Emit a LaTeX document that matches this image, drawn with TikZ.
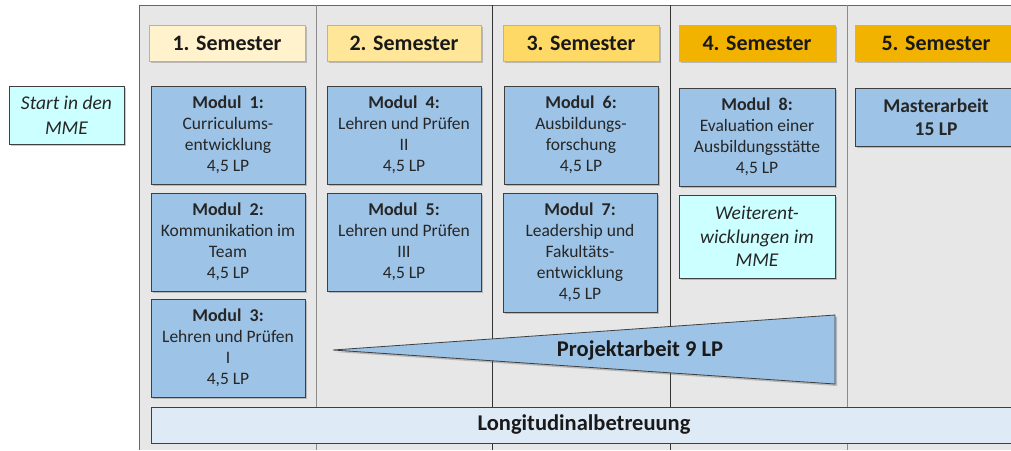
\documentclass[tikz,border=0pt]{standalone}
\usepackage{fontspec}
\setmainfont{Carlito}
\usetikzlibrary{shadows}

\definecolor{panelgrau}{HTML}{E7E7E7}
\definecolor{rand}{HTML}{3F3F3F}
\definecolor{modulblau}{HTML}{9DC3E6}
\definecolor{hinweiscyan}{HTML}{CCFFFF}
\definecolor{longblau}{HTML}{DEEBF7}
\definecolor{semA}{HTML}{FFF2CC}
\definecolor{semB}{HTML}{FFE699}
\definecolor{semC}{HTML}{FFD966}
\definecolor{semD}{HTML}{F2B200}

\newcommand{\modtitel}[1]{{\fontsize{18}{21}\selectfont\bfseries #1}}

\begin{document}
\begin{tikzpicture} [
    x=1pt, y=-1pt,
    schatten/.style = { drop shadow={shadow xshift=2pt, shadow yshift=-2pt,
                        opacity=0.3, fill=black!70} },
    semester/.style = { rectangle, draw=black!30, line width=0.6pt, inner sep=0pt,
                        minimum width=156pt, minimum height=36pt, text=black!90,
                        font=\fontsize{22}{24}\selectfont\bfseries, schatten },
    modul/.style    = { rectangle, draw=rand, fill=modulblau, line width=0.8pt,
                        align=center, inner sep=0pt, minimum width=154pt,
                        minimum height=98pt, text=black!85,
                        font=\fontsize{17.5}{21}\selectfont, schatten },
    hinweis/.style  = { rectangle, draw=rand, fill=hinweiscyan, line width=0.8pt,
                        align=center, inner sep=0pt, text=black!85, schatten },
    trenner/.style  = { line width=0.8pt },
  ]
  \useasboundingbox (0,0) rectangle (1011,450);

  % background panel and column lines
  \fill[panelgrau] (139,5) rectangle (1011,450);
  \draw[line width=1pt, black!60] (139,450) -- (139,5) -- (1011,5);
  \draw[trenner, black!45] (316,5) -- (316,450);
  \draw[trenner, black!80] (492,5) -- (492,450);
  \draw[trenner, black!80] (670,5) -- (670,450);
  \draw[trenner, black!45] (847,5) -- (847,450);

  % semester headers
  \node[semester, fill=semA] (sem1) at (227,43) {1. Semester};
  \node[semester, fill=semB, minimum width=154pt] (sem2) at (404,43) {2. Semester};
  \node[semester, fill=semC] (sem3) at (581,43) {3. Semester};
  \node[semester, fill=semD] (sem4) at (757,43) {4. Semester};
  \node[semester, fill=semD, minimum width=162pt] (sem5) at (936,43) {5. Semester};

  % start box
  \node[hinweis, minimum width=115pt, minimum height=58pt,
        font=\fontsize{19.5}{25}\selectfont\itshape] (start) at (66.5,115)
        {Start in den\\MME};

  % modules
  \node[modul] (m1) at (228,135) {\modtitel{Modul~~1:}\\Curriculums-\\entwicklung\\4,5 LP};
  \node[modul] (m2) at (228,242) {\modtitel{Modul~~2:}\\Kommunikation im\\Team\\4,5 LP};
  \node[modul] (m3) at (228,348) {\modtitel{Modul~~3:}\\Lehren und Prüfen\\I\\4,5 LP};
  \node[modul] (m4) at (404,135) {\modtitel{Modul~~4:}\\Lehren und Prüfen\\II\\4,5 LP};
  \node[modul] (m5) at (404,242) {\modtitel{Modul~~5:}\\Lehren und Prüfen\\III\\4,5 LP};
  \node[modul] (m6) at (581,135) {\modtitel{Modul~~6:}\\Ausbildungs-\\forschung\\4,5 LP};
  \node[modul, minimum height=119pt] (m7) at (580,252.5)
        {\modtitel{Modul~~7:}\\Leadership und\\Fakultäts-\\entwicklung\\4,5 LP};
  \node[modul, minimum width=156pt] (m8) at (757,137)
        {\modtitel{Modul~~8:}\\Evaluation einer\\Ausbildungsstätte\\4,5 LP};
  \node[hinweis, minimum width=156pt, minimum height=83pt,
        font=\fontsize{19.5}{23.5}\selectfont\itshape] (weiter) at (757,236.5)
        {Weiterent-\\wicklungen im\\MME};
  \node[modul, minimum width=162pt, minimum height=58pt,
        font=\fontsize{19.5}{23}\selectfont\bfseries] (master) at (936,117)
        {Masterarbeit\\15 LP};

  % project wedge
  \draw[schatten, draw=rand, fill=modulblau, line width=0.8pt]
        (333,350) -- (835,315) -- (835,384) -- cycle;
  \node[font=\fontsize{22.5}{26}\selectfont\bfseries, text=black!90] (projekt) at (640,350)
        {Projektarbeit 9 LP};

  % longitudinal bar
  \node[rectangle, draw=rand, fill=longblau, line width=1pt, inner sep=0pt,
        minimum width=866pt, minimum height=36pt, text=black!90,
        font=\fontsize{22.5}{26}\selectfont\bfseries] (longi) at (584,425)
        {Longitudinalbetreuung};
\end{tikzpicture}
\end{document}
